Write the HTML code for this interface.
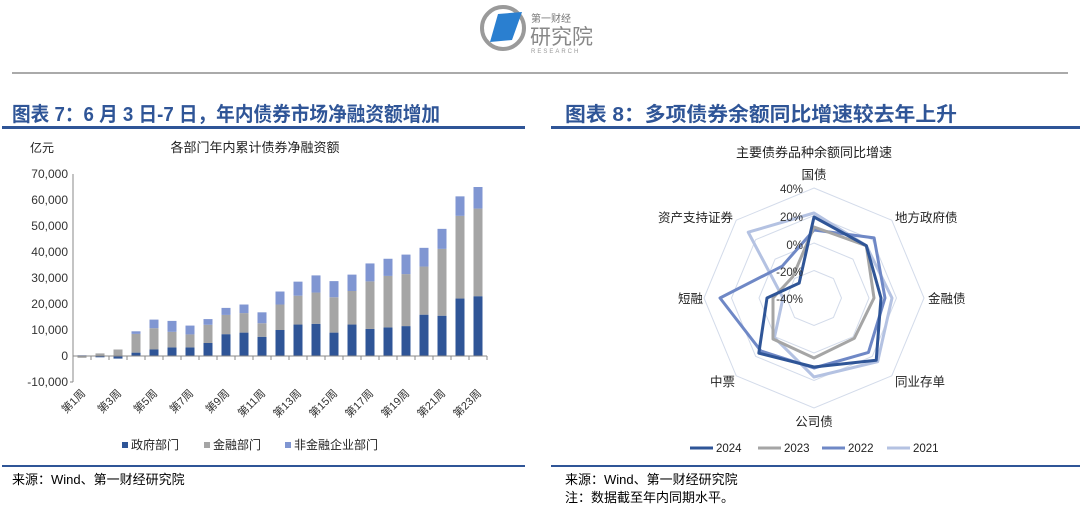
<!DOCTYPE html>
<html><head><meta charset="utf-8"><style>
body{margin:0;width:1080px;height:513px;background:#fff;overflow:hidden;font-family:"Liberation Sans","Noto Sans CJK SC",sans-serif;}
svg text{font-family:"Liberation Sans","Noto Sans CJK SC",sans-serif;}
</style></head><body>
<svg id="s" width="1080" height="513" xmlns="http://www.w3.org/2000/svg">
<!-- logo -->
<circle cx="503" cy="28" r="21" fill="none" stroke="#9a9a9a" stroke-width="4"/>
<polygon points="490,42 498,14 522,12 512,40" fill="#2a7fd0"/>
<text x="531" y="22" font-size="10" fill="#777">第一财经</text>
<text x="530" y="44" font-size="21" fill="#888">研究院</text>
<text x="531" y="53" font-size="6" fill="#999" letter-spacing="2">RESEARCH</text>
<line x1="12" y1="73" x2="1068" y2="73" stroke="#555" stroke-width="1"/>
<!-- titles -->
<text x="12" y="121" font-size="20" font-weight="bold" fill="#2f5597" textLength="428" lengthAdjust="spacingAndGlyphs">图表 7：6 月 3 日-7 日，年内债券市场净融资额增加</text>
<line x1="2" y1="127.5" x2="525" y2="127.5" stroke="#2f5597" stroke-width="3"/>
<text x="565" y="121" font-size="20" font-weight="bold" fill="#2f5597" textLength="392" lengthAdjust="spacingAndGlyphs">图表 8：多项债券余额同比增速较去年上升</text>
<line x1="551" y1="127.5" x2="1080" y2="127.5" stroke="#2f5597" stroke-width="3"/>
<line x1="2" y1="466" x2="525" y2="466" stroke="#2f5597" stroke-width="2"/>
<line x1="551" y1="466" x2="1080" y2="466" stroke="#2f5597" stroke-width="2"/>
<text x="12" y="484" font-size="13" fill="#000">来源：Wind、第一财经研究院</text>
<text x="565" y="484" font-size="13" fill="#000">来源：Wind、第一财经研究院</text>
<text x="565" y="502" font-size="13" fill="#000">注：数据截至年内同期水平。</text>
<!-- left chart -->
<text x="30" y="152" font-size="12" fill="#222">亿元</text>
<text x="255" y="152" font-size="13" fill="#222" text-anchor="middle">各部门年内累计债券净融资额</text>
<g font-size="12" fill="#333" text-anchor="end">
<text x="68" y="178">70,000</text><text x="68" y="204">60,000</text><text x="68" y="230">50,000</text>
<text x="68" y="256">40,000</text><text x="68" y="282">30,000</text><text x="68" y="308">20,000</text>
<text x="68" y="334">10,000</text><text x="68" y="360">0</text><text x="68" y="386">-10,000</text>
</g>
<line x1="73" y1="174" x2="73" y2="382" stroke="#888"/>
<line x1="70" y1="382" x2="73" y2="382" stroke="#888"/>
<g id="bars"></g>
<line x1="73" y1="356" x2="487" y2="356" stroke="#888"/>
<g id="xl" font-size="11" fill="#333"></g>
<rect x="122" y="442" width="6" height="6" fill="#2f5597"/><text x="131" y="449" font-size="12" fill="#222">政府部门</text>
<rect x="204" y="442" width="6" height="6" fill="#a5a5a5"/><text x="213" y="449" font-size="12" fill="#222">金融部门</text>
<rect x="285" y="442" width="6" height="6" fill="#8096d2"/><text x="294" y="449" font-size="12" fill="#222">非金融企业部门</text>
<!-- right chart -->
<text x="814" y="157" font-size="13" fill="#222" text-anchor="middle">主要债券品种余额同比增速</text>
<g id="rings" fill="none" stroke="#d3dbea" stroke-width="1"></g>
<g id="radar" fill="none" stroke-width="3" stroke-linejoin="round"></g>
<g font-size="11.5" fill="#333" text-anchor="end">
<text x="803" y="193">40%</text><text x="803" y="221">20%</text><text x="803" y="249">0%</text>
<text x="803" y="276">-20%</text><text x="803" y="303">-40%</text>
</g>
<g font-size="12.5" fill="#222">
<text x="814" y="179" text-anchor="middle">国债</text>
<text x="895" y="222">地方政府债</text>
<text x="928" y="303">金融债</text>
<text x="895" y="386">同业存单</text>
<text x="814" y="426" text-anchor="middle">公司债</text>
<text x="735" y="386" text-anchor="end">中票</text>
<text x="703" y="303" text-anchor="end">短融</text>
<text x="733" y="222" text-anchor="end">资产支持证券</text>
</g>
<g font-size="11.5" fill="#222">
<line x1="690" y1="448" x2="713" y2="448" stroke="#2f5597" stroke-width="3"/><text x="716" y="452">2024</text>
<line x1="758" y1="448" x2="781" y2="448" stroke="#a5a5a5" stroke-width="3"/><text x="784" y="452">2023</text>
<line x1="822" y1="448" x2="845" y2="448" stroke="#6f88c6" stroke-width="3"/><text x="848" y="452">2022</text>
<line x1="887" y1="448" x2="910" y2="448" stroke="#b4c2e2" stroke-width="3"/><text x="913" y="452">2021</text>
</g>
</svg>
<script>
var NS="http://www.w3.org/2000/svg";
function el(p,t,a){var e=document.createElementNS(NS,t);for(var k in a)e.setAttribute(k,a[k]);p.appendChild(e);return e;}
var d=[[-200,-700,300],[-500,1000,800],[-1000,2500,1200],[1300,8500,9500],[2500,10700,14000],[3300,9300,13500],[3300,8300,11700],[5000,12000,14200],[8400,15800,18500],[9000,16500,19800],[7400,12600,16800],[10000,19800,24800],[12100,23200,28600],[12400,24400,31000],[9000,22600,28800],[12100,25000,31300],[10400,28700,35600],[11000,30800,37400],[11500,31500,39000],[15900,34400,41600],[15500,41200,48900],[22100,53900,61400],[23000,56700,65000]];
var g=document.getElementById('bars'),s=0.0026,y0=356;
function Y(v){return y0-v*s;}
d.forEach(function(r,i){var cx=73+18*(i+0.5),x=cx-4.5;
 var gov=r[0],fin=r[1],nf=r[2];
 if(gov<0){el(g,'rect',{x:x,y:y0,width:9,height:-gov*s,fill:'#2f5597'});}
 else el(g,'rect',{x:x,y:Y(gov),width:9,height:gov*s,fill:'#2f5597'});
 if(fin<0) el(g,'rect',{x:x,y:y0,width:9,height:-fin*s,fill:'#a5a5a5'});
 else {var b=Math.max(gov,0);el(g,'rect',{x:x,y:Y(fin),width:9,height:(fin-b)*s,fill:'#a5a5a5'});}
 var b2=Math.max(fin,0);el(g,'rect',{x:x,y:Y(nf),width:9,height:Math.max(0,(nf-b2)*s),fill:'#8096d2'});
 el(g,'line',{x1:73+18*(i+1),y1:356,x2:73+18*(i+1),y2:360,stroke:'#888'});
 if(i%2==0){var tx=cx+4,ty=394;var t=el(document.getElementById('xl'),'text',{x:tx,y:ty,'text-anchor':'end',transform:'rotate(-45 '+tx+' '+ty+')'});t.textContent='第'+(i+1)+'周';}
});
var cx=814,cy=298,rg=document.getElementById('rings');
function pt(a,r){var t=a*Math.PI/4;return [cx+r*Math.sin(t),cy-r*Math.cos(t)];}
[27.5,55,82.5,110].forEach(function(r){var p=[];for(var i=0;i<8;i++)p.push(pt(i,r).join(','));el(rg,'polygon',{points:p.join(' ')});});
var rd=document.getElementById('radar');
var S=[[[85,74,78,90,79,56,31,93],'#b4c2e2'],[[68,85,71,77,70,75,94,45],'#6f88c6'],[[71,74,60,57,60,58,41,30],'#a5a5a5'],[[81,74,67,88,69,78,47,21],'#2f5597']];
S.forEach(function(q){var p=q[0].map(function(r,i){return pt(i,r).join(',');});el(rd,'polygon',{points:p.join(' '),stroke:q[1]});});
</script>
</body></html>
